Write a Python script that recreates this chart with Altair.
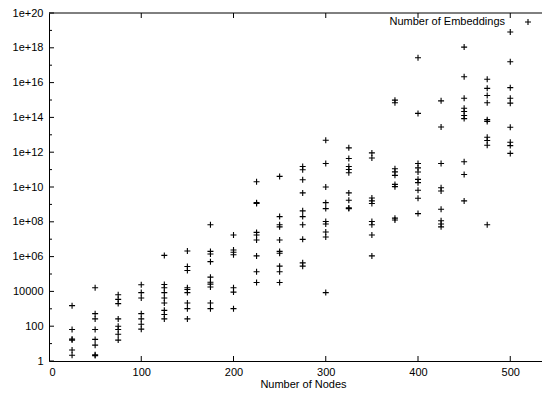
import altair as alt
import pandas as pd

# Number of nodes (x) and log10 of the number of embeddings (y)
nodes_25 = [3.18, 1.81, 1.26, 1.20, 0.63, 0.33]
nodes_50 = [4.21, 2.72, 2.42, 1.81, 1.24, 0.91, 0.36, 0.31]
nodes_75 = [3.81, 3.54, 3.30, 2.42, 2.00, 1.81, 1.54, 1.20]
nodes_100 = [4.38, 3.93, 3.62, 2.72, 2.42, 2.11, 1.83]
nodes_125 = [6.07, 4.40, 4.21, 3.93, 3.62, 3.33, 2.91, 2.67, 2.42]
nodes_150 = [6.32, 5.43, 5.20, 4.21, 4.11, 3.93, 3.33, 3.01, 2.42]
nodes_175 = [7.83, 6.30, 6.15, 5.71, 4.82, 4.53, 4.42, 4.25, 3.33, 3.01]
nodes_200 = [7.24, 6.38, 6.25, 6.11, 4.21, 3.96, 3.01]
nodes_225 = [10.30, 9.10, 9.05, 7.39, 7.24, 6.95, 6.04, 5.13, 4.51]
nodes_250 = [10.61, 8.30, 7.83, 7.71, 6.95, 6.30, 6.19, 5.45, 5.13, 4.51]
nodes_275 = [11.18, 10.99, 10.42, 9.66, 8.63, 8.30, 7.83, 6.99, 5.64, 5.45]
nodes_300 = [12.69, 11.35, 10.00, 9.10, 8.76, 8.02, 7.87, 7.41, 7.13, 3.93]
nodes_325 = [12.25, 11.64, 11.18, 11.01, 10.82, 9.66, 9.24, 8.80, 8.76]
nodes_350 = [11.96, 11.67, 9.37, 9.20, 9.05, 8.02, 7.83, 7.24, 6.04]
nodes_375 = [14.99, 14.84, 11.05, 10.87, 10.67, 10.15, 10.02, 8.21, 8.10]
nodes_400 = [17.43, 14.23, 11.35, 11.10, 10.86, 10.44, 10.25, 9.81, 9.35, 8.47]
nodes_425 = [14.95, 13.45, 11.35, 9.96, 9.77, 8.72, 8.06, 7.87, 7.71]
nodes_450 = [18.04, 16.34, 15.10, 14.53, 14.34, 14.11, 13.93, 11.45, 10.72, 9.20]
nodes_475 = [16.19, 15.67, 15.26, 14.84, 13.87, 13.77, 12.86, 12.67, 12.40, 7.83]
nodes_500 = [18.91, 17.20, 15.71, 15.10, 14.82, 13.43, 12.57, 12.38, 11.93]

columns = {
    25: nodes_25, 50: nodes_50, 75: nodes_75, 100: nodes_100, 125: nodes_125,
    150: nodes_150, 175: nodes_175, 200: nodes_200, 225: nodes_225, 250: nodes_250,
    275: nodes_275, 300: nodes_300, 325: nodes_325, 350: nodes_350, 375: nodes_375,
    400: nodes_400, 425: nodes_425, 450: nodes_450, 475: nodes_475, 500: nodes_500,
}

x_ticks = [0, 100, 200, 300, 400, 500]
y_major = [10 ** e for e in range(0, 21, 2)]
y_minor = [10 ** e for e in range(1, 20, 2)]
x_inner_ticks = [100, 200, 300, 400, 500]
legend_label = "Number of Embeddings"
x_title = "Number of Nodes"

rows = []
for n, vals in columns.items():
    for e in vals:
        rows.append({"nodes": n, "embeddings": 10 ** e})
df = pd.DataFrame(rows)

W, H = 493, 348
FONT = "Liberation Sans"

xscale = alt.Scale(domain=[0, 534.4], nice=False, zero=False)
yscale = alt.Scale(type="log", domain=[1, 1e20], nice=False)

label_expr = (
    "datum.value >= 1e6 ? '1e+' + (round(log(datum.value)/LN10) < 10 ? '0' : '') "
    "+ round(log(datum.value)/LN10) : format(datum.value, 'd')"
)

plus = "M-1,0H1M0,-1V1"

x_axis = alt.Axis(values=x_ticks, format="d", ticks=False, tickSize=0, domain=True,
                  domainColor="black", domainWidth=1, grid=False, labelPadding=5,
                  labelFontSize=11, labelFont=FONT, labelColor="black", title=x_title,
                  titleFont=FONT, titleFontSize=11, titleFontWeight="normal",
                  titleColor="black", titleX=254, titleY=23, titleBaseline="middle",
                  titleAlign="center")
y_axis = alt.Axis(values=y_major, labelExpr=label_expr, ticks=False, tickSize=0,
                  domain=True, domainColor="black", domainWidth=1, grid=False,
                  labelPadding=6, labelFontSize=11, labelFont=FONT, labelColor="black",
                  title=None)

points = alt.Chart(df).mark_point(
    shape=plus, size=36, filled=False, stroke="black", strokeWidth=1.1, opacity=1
).encode(
    x=alt.X("nodes:Q", scale=xscale, axis=x_axis),
    y=alt.Y("embeddings:Q", scale=yscale, axis=y_axis),
)

ymaj_df = pd.DataFrame({"embeddings": y_major})
ymin_df = pd.DataFrame({"embeddings": y_minor})
xt_df = pd.DataFrame({"nodes": x_inner_ticks})

ymaj_ticks = alt.Chart(ymaj_df).mark_rule(color="black", strokeWidth=1).encode(
    y=alt.Y("embeddings:Q", scale=yscale, axis=y_axis), x=alt.value(0), x2=alt.value(5)
)
ymin_ticks = alt.Chart(ymin_df).mark_rule(color="black", strokeWidth=1).encode(
    y=alt.Y("embeddings:Q", scale=yscale, axis=y_axis), x=alt.value(0), x2=alt.value(3)
)
xb_ticks = alt.Chart(xt_df).mark_rule(color="black", strokeWidth=1).encode(
    x=alt.X("nodes:Q", scale=xscale, axis=x_axis), y=alt.value(H), y2=alt.value(H - 5)
)
xt_ticks = alt.Chart(xt_df).mark_rule(color="black", strokeWidth=1).encode(
    x=alt.X("nodes:Q", scale=xscale, axis=x_axis), y=alt.value(0), y2=alt.value(5)
)

leg_df = pd.DataFrame({"label": [legend_label]})
top_border = alt.Chart(leg_df).mark_rule(color="black", strokeWidth=1).encode(
    x=alt.value(0), x2=alt.value(W), y=alt.value(0)
)
leg_text = alt.Chart(leg_df).mark_text(
    align="right", baseline="middle", font=FONT, fontSize=11, color="black"
).encode(text="label:N", x=alt.value(456), y=alt.value(9))
leg_sym = alt.Chart(leg_df).mark_point(
    shape=plus, size=36, filled=False, stroke="black", strokeWidth=1.1, opacity=1
).encode(x=alt.value(479), y=alt.value(9))

chart = alt.layer(points, ymaj_ticks, ymin_ticks, xb_ticks, xt_ticks, top_border,
                  leg_text, leg_sym).properties(
    width=W, height=H,
    autosize=alt.AutoSizeParams(type="none"),
    padding={"left": 41, "top": 5, "right": 0, "bottom": 27},
    background="white",
).configure_view(stroke=None)

chart.save("out.html", embed_options={"renderer": "svg", "actions": False})
